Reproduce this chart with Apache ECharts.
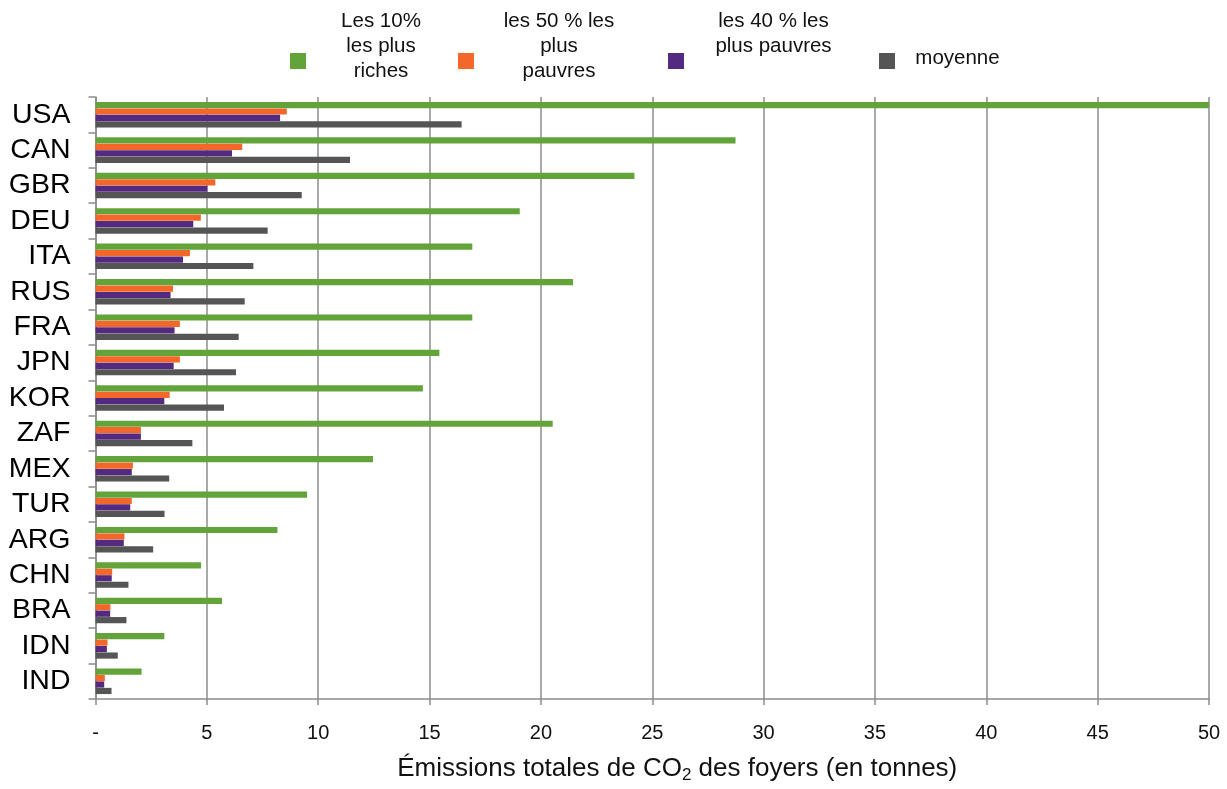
<!DOCTYPE html>
<html>
<head>
<meta charset="utf-8">
<script src="https://cdn.jsdelivr.net/npm/echarts@6/dist/echarts.min.js"></script>
<style>
html,body{margin:0;padding:0;background:#fff;}
#chart{width:1227px;height:789px;}
</style>
</head>
<body>
<div id="chart"></div>
<script>
const countries = ['USA','CAN','GBR','DEU','ITA','RUS','FRA','JPN','KOR','ZAF','MEX','TUR','ARG','CHN','BRA','IDN','IND'];
const seriesNames = ['Les 10% les plus riches', 'les 50 % les plus pauvres', 'les 40 % les plus pauvres', 'moyenne'];
const richest10 = [52.0, 28.74, 24.2, 19.05, 16.92, 21.44, 16.92, 15.44, 14.7, 20.53, 12.46, 9.5, 8.17, 4.74, 5.68, 3.09, 2.07];
const poorest50 = [8.59, 6.59, 5.38, 4.73, 4.24, 3.48, 3.79, 3.79, 3.33, 2.04, 1.68, 1.63, 1.30, 0.75, 0.67, 0.54, 0.42];
const poorest40 = [8.29, 6.13, 5.02, 4.39, 3.93, 3.37, 3.55, 3.51, 3.09, 2.04, 1.63, 1.56, 1.27, 0.73, 0.66, 0.51, 0.39];
const average   = [16.44, 11.43, 9.26, 7.73, 7.09, 6.70, 6.43, 6.31, 5.77, 4.35, 3.31, 3.10, 2.59, 1.48, 1.39, 1.00, 0.72];
const xTicks = [0, 5, 10, 15, 20, 25, 30, 35, 40, 45, 50];

const colors = ['#62A439', '#F3672A', '#532A7F', '#555555'];
const FONT = 'Liberation Sans, Arial, sans-serif';

const chart = echarts.init(document.getElementById('chart'), null, {renderer: 'canvas'});

function legendFor(name, left, top, lines, width, tailHeight) {
  return {
    show: true,
    left: left, top: top,
    padding: 0,
    itemWidth: 16, itemHeight: 16,
    selectedMode: false,
    data: [{name: name, icon: 'rect'}],
    formatter: function () {
      return lines.map(l => '{c|' + l + '}').join('\n') + (tailHeight ? '\n{e| }' : '');
    },
    textStyle: {
      fontFamily: FONT,
      fontSize: 20.5,
      color: '#111',
      rich: {
        c: {fontFamily: FONT, fontSize: 20.5, lineHeight: 25, width: width, align: 'center', color: '#111'},
        e: {fontSize: 4, lineHeight: tailHeight || 1}
      }
    }
  };
}

const option = {
  animation: false,
  color: colors,
  legend: [
    legendFor(seriesNames[0], 290, 10.5, ['Les 10%', 'les plus', 'riches'], 140, 30),
    legendFor(seriesNames[1], 458, 10.5, ['les 50 % les', 'plus', 'pauvres'], 160, 30),
    legendFor(seriesNames[2], 668, 10.5, ['les 40 % les', 'plus pauvres'], 169, 55),
    legendFor(seriesNames[3], 879, 47.5, ['moyenne'], 115, 6)
  ],
  grid: {left: 95.5, right: 18, top: 97, bottom: 88, containLabel: false},
  xAxis: {
    type: 'value',
    min: 0, max: 50, interval: 5,
    axisLine: {show: true, lineStyle: {color: '#8c8c8c', width: 1.5}},
    axisTick: {show: true, length: 6, lineStyle: {color: '#8c8c8c', width: 1.5}},
    splitLine: {show: true, lineStyle: {color: '#8c8c8c', width: 1.5}},
    axisLabel: {
      fontFamily: FONT, fontSize: 20, color: '#111', margin: 24,
      formatter: function (v) { return xTicks.indexOf(v) === 0 ? '-' : String(v); }
    },
    name: '{a|Émissions totales de CO}{s|2}{a| des foyers (en tonnes)}',
    nameLocation: 'middle',
    nameGap: 55,
    nameTextStyle: {
      fontFamily: FONT, fontSize: 26, color: '#111',
      padding: [0, 0, 0, 50],
      rich: {
        a: {fontFamily: FONT, fontSize: 26, lineHeight: 30, color: '#111'},
        s: {fontFamily: FONT, fontSize: 17, lineHeight: 17, verticalAlign: 'bottom', color: '#111'}
      }
    }
  },
  yAxis: {
    type: 'category',
    inverse: true,
    data: countries,
    axisLine: {show: true, lineStyle: {color: '#8c8c8c', width: 1.5}},
    axisTick: {show: true, length: 7, lineStyle: {color: '#8c8c8c', width: 1.5}},
    axisLabel: {fontFamily: FONT, fontSize: 28.5, color: '#000', margin: 25, interval: 0, hideOverlap: false}
  },
  series: [
    {name: seriesNames[0], type: 'bar', data: richest10, barWidth: 6.2, barGap: '4%', clip: true},
    {name: seriesNames[1], type: 'bar', data: poorest50, barWidth: 6.2, barGap: '4%'},
    {name: seriesNames[2], type: 'bar', data: poorest40, barWidth: 6.2, barGap: '4%'},
    {name: seriesNames[3], type: 'bar', data: average, barWidth: 6.2, barGap: '4%'}
  ]
};
chart.setOption(option);
</script>
</body>
</html>
